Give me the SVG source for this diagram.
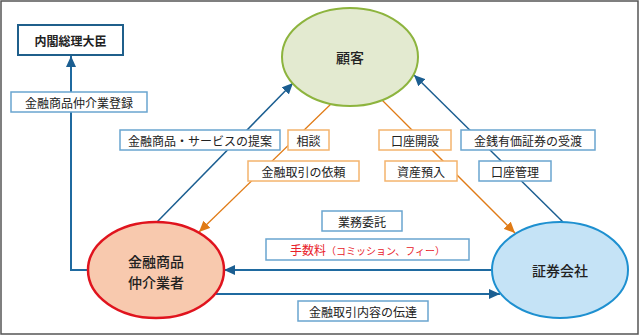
<svg xmlns="http://www.w3.org/2000/svg" width="640" height="336" viewBox="0 0 640 336">
<style>
text{font-family:"Noto Sans CJK JP","Noto Sans",sans-serif;fill:#222;text-anchor:middle;dominant-baseline:central}
.lb{font-size:12px}
.nd{font-size:14px;font-weight:500}
.bl{fill:#fff;stroke:#6aa5cf;stroke-width:1.5}
.or{fill:#fff;stroke:#f4b46e;stroke-width:1.5}
.cb{fill:none;stroke:#1b5e91;stroke-width:1.5}
.cb2{fill:none;stroke:#1f6aa0;stroke-width:2}
.co{fill:none;stroke:#e07b16;stroke-width:1.3}
</style>
<defs>
<marker id="ab" markerUnits="userSpaceOnUse" markerWidth="12" markerHeight="10" refX="11" refY="5" orient="auto"><path d="M0,0 L11,5 L0,10 Z" fill="#1b5e91"/></marker>
<marker id="ao" markerUnits="userSpaceOnUse" markerWidth="12" markerHeight="10" refX="11" refY="5" orient="auto"><path d="M0,0 L11,5 L0,10 Z" fill="#e07b16"/></marker>
</defs>
<rect x="1" y="1" width="637" height="333" fill="#fff" stroke="#555" stroke-width="1.5"/>
<g id="connectors">
<path class="cb2" d="M89,270 H71 V56" marker-end="url(#ab)"/>
<line class="cb" x1="157" y1="222" x2="293" y2="83" marker-end="url(#ab)"/>
<line class="co" x1="332" y1="103" x2="199" y2="232" marker-end="url(#ao)"/>
<line class="co" x1="382" y1="100" x2="515" y2="233" marker-end="url(#ao)"/>
<line class="cb" x1="563" y1="222" x2="414" y2="75" marker-end="url(#ab)"/>
<line class="cb2" x1="492" y1="270" x2="224" y2="270" marker-end="url(#ab)"/>
<line class="cb2" x1="216" y1="294" x2="500" y2="294" marker-end="url(#ab)"/>
</g>
<g id="node-naikaku">
<rect x="18" y="25" width="105" height="30" fill="#fff" stroke="#1f5f8b" stroke-width="2"/>
<text class="lb" x="70.5" y="40" font-weight="bold">内閣総理大臣</text>
</g>
<g id="node-kokyaku">
<ellipse cx="350" cy="57" rx="68" ry="49" fill="#e3ead0" stroke="#8db43e" stroke-width="2"/>
<text class="nd" x="350" y="57" font-size="15">顧客</text>
</g>
<g id="node-chukai">
<ellipse cx="156" cy="270" rx="68" ry="48" fill="#f8c9ae" stroke="#e0141e" stroke-width="2.5"/>
<text class="nd" x="156" y="261">金融商品</text>
<text class="nd" x="156" y="282">仲介業者</text>
</g>
<g id="node-shoken">
<ellipse cx="560" cy="270" rx="68" ry="48" fill="#c5e3f6" stroke="#1e90d0" stroke-width="2"/>
<text class="nd" x="560" y="270">証券会社</text>
</g>
<g id="labels">
<rect class="bl" x="11" y="92" width="136" height="20"/><text class="lb" x="79" y="102">金融商品仲介業登録</text>
<rect class="bl" x="120" y="130" width="160" height="20"/><text class="lb" x="200" y="140">金融商品・サービスの提案</text>
<rect class="or" x="288" y="130" width="41" height="20"/><text class="lb" x="308.5" y="140">相談</text>
<rect class="or" x="248" y="161" width="111" height="20"/><text class="lb" x="303.5" y="171">金融取引の依頼</text>
<rect class="or" x="379" y="130" width="72" height="20"/><text class="lb" x="415" y="140">口座開設</text>
<rect class="or" x="385" y="161" width="72" height="20"/><text class="lb" x="421" y="171">資産預入</text>
<rect class="bl" x="461" y="130" width="134" height="20"/><text class="lb" x="528" y="140">金銭有価証券の受渡</text>
<rect class="bl" x="479" y="161" width="72" height="20"/><text class="lb" x="515" y="171">口座管理</text>
<rect class="bl" x="322" y="211" width="80" height="20"/><text class="lb" x="362" y="221">業務委託</text>
<rect class="bl" x="266" y="239" width="203" height="21"/><text class="lb" x="367.5" y="249.5" style="fill:#e8202a">手数料<tspan font-size="10" style="fill:#e8202a">（コミッション、フィー）</tspan></text>
<rect class="bl" x="298" y="301" width="130" height="20"/><text class="lb" x="363" y="311">金融取引内容の伝達</text>
</g>
</svg>
